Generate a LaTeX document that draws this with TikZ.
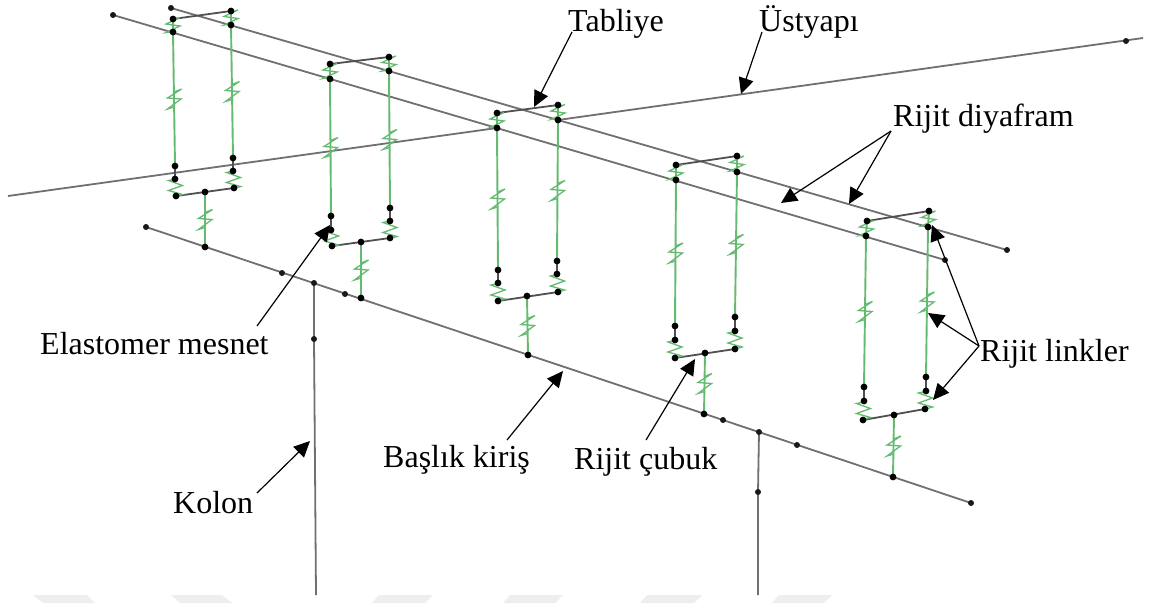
\documentclass[tikz,border=0pt]{standalone}
\usepackage{fontspec}
\setmainfont{Liberation Serif}
\usetikzlibrary{arrows.meta,calc}
\definecolor{sprgreen}{RGB}{100,186,112}
\definecolor{beamgray}{RGB}{112,112,112}
\definecolor{linkgray}{RGB}{80,80,80}
\definecolor{markgray}{RGB}{238,238,238}
\tikzset{
  beam/.style={draw=beamgray,line width=1.8pt},
  linkbar/.style={draw=linkgray,line width=1.8pt},
  sprline/.style={draw=sprgreen,line width=1.9pt},
  sprglyph/.style={draw=sprgreen,line width=1.3pt,line join=miter},
  dot/.style={circle,fill=black,inner sep=0pt,minimum size=6.8pt},
  smalldot/.style={circle,fill=black!90,inner sep=0pt,minimum size=6pt},
  callout/.style={draw=black,line width=1.2pt,-{Stealth[length=16pt,width=15pt,inset=0pt]}},
  lab/.style={anchor=base west,inner sep=0pt,font=\fontsize{32}{36}\selectfont,text=black},
  faint/.style={fill=markgray,draw=none}
}
\newcommand{\longspr}[2]{%
  \draw[sprline] (#1) -- (#2);
  \coordinate (sc) at ($(#1)!.5!(#2)$);
  \draw[sprglyph,shift={(sc)}] (0,-7)--(7.5,-10)--(-6.5,-1)--(7,0)--(-6.5,10)--(0,8);}
\newcommand{\topspr}[2]{%
  \draw[sprline] (#1) -- (#2);
  \coordinate (sc) at ($(#1)!.5!(#2)$);
  \draw[sprglyph,shift={(sc)}] (0,-5.5)--(7,-8)--(-7,-1.5)--(7,0.5)--(-7,7)--(0,6);}
\newcommand{\lowspr}[2]{%
  \coordinate (sc) at ($(#1)!.5!(#2)$);
  \draw[sprglyph,shift={(sc)}] (0,-8.5)--(-7,-7)--(7,-2)--(-7,3)--(7,7)--(0,9);}
\begin{document}
\begin{tikzpicture}[x=1pt,y=-1pt]
\useasboundingbox (0,0) rectangle (1154,603);
\fill[white] (0,0) rectangle (1154,603);
% faint marks along the lower edge
\fill[faint] (33,595)--(87,595)--(95,603)--(43,603)--cycle;
\fill[faint] (171,595)--(222,595)--(232,603)--(180,603)--cycle;
\fill[faint] (379,595)--(433,595)--(425,603)--(372,603)--cycle;
\fill[faint] (510,595)--(563,595)--(555,603)--(503,603)--cycle;
\fill[faint] (647,595)--(702,595)--(694,603)--(640,603)--cycle;
\fill[faint] (779,595)--(832,595)--(824,603)--(772,603)--cycle;
% coordinates of the model joints
\foreach \n/\x/\y in {
 1a1/173/19,1a2/173/32,1a3/175/166,1a4/175/179,1a5/176/196,
 1b1/231/11,1b2/231/25,1b3/233/158,1b4/233/171,1b5/234/188,1m/205/192,1c/205/247,
 2a1/330/64,2a2/330/79,2a3/331/216,2a4/331/230,2a5/332/246,
 2b1/389/57,2b2/389/71,2b3/390/208,2b4/390/221,2b5/390/238,2m/361/242,2c/361/298,
 3a1/497/113,3a2/497/128,3a3/498/270,3a4/498/283,3a5/498/301,
 3b1/558/105,3b2/558/120,3b3/557/261,3b4/557/274,3b5/558/292,3m/527/296,3c/528/355,
 4a1/676/165,4a2/676/180,4a3/675/326,4a4/675/340,4a5/675/358,
 4b1/737/156,4b2/737/172,4b3/735/317,4b4/735/331,4b5/735/349,4m/705/353,4c/704/414,
 5a1/867/221,5a2/866/236,5a3/864/387,5a4/864/401,5a5/863/420,
 5b1/929/211,5b2/928/227,5b3/926/377,5b4/926/391,5b5/925/409,5m/894/415,5c/893/477,
 deckAs/171/8,deckAe/1007/250,deckBs/113/15,deckBe/945/260,
 superL/8/196,superR/1143/38,superD/1126/41,
 capS/146/227,capE/971/503,
 capX1/282/273,capX2/345/294,capX3/723/420,capX4/797/445,
 colAt/314/283,colAm/314/339,colAb/316/595,
 colBt/759/432,colBm/758/492,colBb/758/595}
 {\coordinate (\n) at (\x,\y);}
% main members
\draw[beam] (deckAs) -- (deckAe);
\draw[beam] (deckBs) -- (deckBe);
\draw[beam] (superL) -- (3a2);
\draw[beam] (3b2) -- (superR);
\draw[beam] (capS) -- (capE);
\draw[beam] (colAt) -- (colAm) -- (colAb);
\draw[beam] (colBt) -- (colBm) -- (colBb);
% bays
\foreach \k in {1,...,5}{
  \draw[linkbar] (\k a1) -- (\k b1);
  \draw[linkbar] (\k a5) -- (\k b5);
  \draw[linkbar] (\k a3) -- (\k a4);
  \draw[linkbar] (\k b3) -- (\k b4);
  \topspr{\k a1}{\k a2}
  \topspr{\k b1}{\k b2}
  \longspr{\k a2}{\k a3}
  \longspr{\k b2}{\k b3}
  \lowspr{\k a4}{\k a5}
  \lowspr{\k b4}{\k b5}
  \longspr{\k m}{\k c}
}
% joints
\foreach \k in {1,...,5}{
  \foreach \p in {a1,a2,a3,a4,a5,b1,b2,b3,b4,b5,m,c}
    {\node[dot] (d\k\p) at (\k\p) {};}
}
\foreach \n in {deckAs,deckAe,deckBs,deckBe,superD,capS,capE,capX1,capX2,capX3,capX4,colAt,colAm,colBt,colBm}
  {\node[smalldot] (d\n) at (\n) {};}
% labels
\node[lab] (tabliye) at (568,31) {Tabliye};
\node[lab] (ustyapi) at (759,31) {Üstyapı};
\node[lab] (diyafram) at (893,126) {Rijit diyafram};
\node[lab] (linkler) at (980,361) {Rijit linkler};
\node[lab] (elastomer) at (40,354) {Elastomer mesnet};
\node[lab] (kolon) at (173,513) {Kolon};
\node[lab] (baslik) at (383,467) {Başlık kiriş};
\node[lab] (cubuk) at (574,469) {Rijit çubuk};
% callout ends
\foreach \n/\x/\y in {
 tT/572/32,hT/534/107, tU/762/32,hU/741/94,
 tD/891/131,hDa/781/203,hDb/849/204,
 tL/979/346,hLa/932/225,hLb/928/313,hLc/933/400,
 tE/257/326,hE/330/225, tK/257/493,hK/310/441,
 tB/507/440,hB/563/371, tC/646/440,hC/695/359}
 {\coordinate (\n) at (\x,\y);}
\draw[callout] (tT) -- (hT);
\draw[callout] (tU) -- (hU);
\draw[callout] (tD) -- (hDa);
\draw[callout] (tD) -- (hDb);
\draw[callout] (tL) -- (hLa);
\draw[callout] (tL) -- (hLb);
\draw[callout] (tL) -- (hLc);
\draw[callout] (tE) -- (hE);
\draw[callout] (tK) -- (hK);
\draw[callout] (tB) -- (hB);
\draw[callout] (tC) -- (hC);
\end{tikzpicture}
\end{document}
